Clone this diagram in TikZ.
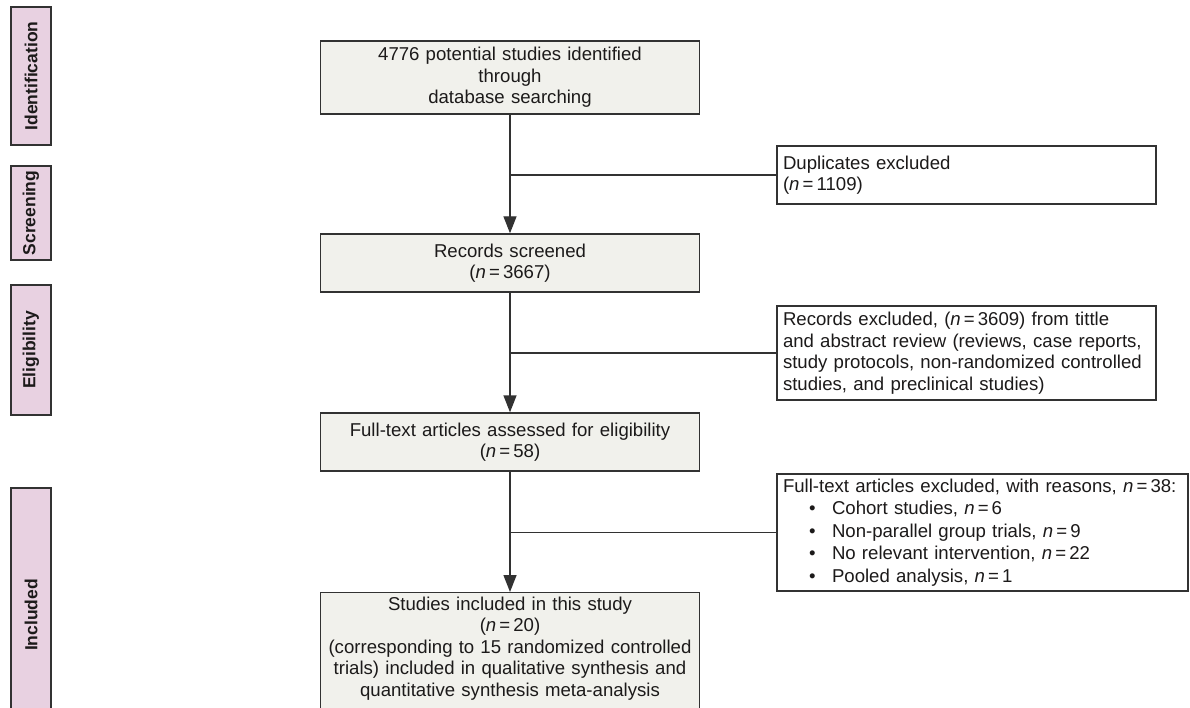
\documentclass[tikz,border=0pt]{standalone}
\usepackage{fontspec}
\setmainfont{Liberation Sans}
\usetikzlibrary{arrows.meta}
\definecolor{boxgray}{RGB}{241,241,236}
\definecolor{stagepink}{RGB}{232,209,225}
\definecolor{linegray}{RGB}{50,50,50}
\definecolor{textgray}{RGB}{28,26,26}
\newcommand{\nval}[1]{\textit{n}\,=\,#1}
\newcommand{\bitem}{\hspace*{26pt}\makebox[23pt][l]{•}}
\tikzset{
  basebox/.style={draw=linegray, line width=1.4pt, text=textgray,
    font=\fontsize{18.6}{21.5}\selectfont},
  mainbox/.style={basebox, fill=boxgray, align=center, text width=379pt,
    inner xsep=0pt, inner ysep=3pt},
  sidebox/.style={basebox, fill=white, align=left, text width=#1,
    inner xsep=6pt, inner ysep=3pt},
  stagebox/.style={draw=linegray, line width=1.4pt, fill=stagepink,
    text=textgray, rotate=90, inner sep=0pt, minimum height=40pt,
    font=\fontsize{17.5}{20}\selectfont\bfseries},
  flow/.style={draw=linegray, line width=1.4pt},
}
\begin{document}
\begin{tikzpicture}[x=1pt, y=-1pt, >={Triangle[width=13pt,length=17pt]}]
\fill[white] (0,0) rectangle (1190,708);
\clip (0,0) rectangle (1190,708);
% 左侧阶段标签
\node[stagebox, minimum width=138pt] (sIdent) at (31,76) {Identification};
\node[stagebox, minimum width=94pt] (sScreen) at (31,213) {Screening};
\node[stagebox, minimum width=130pt] (sElig) at (31,350) {Eligibility};
\node[stagebox, minimum width=254pt] (sIncl) at (31,615) {Included};
% 主流程
\node[mainbox, minimum height=73pt] (ident) at (510,77.5)
  {4776 potential studies identified\\through\\database searching};
\node[mainbox, minimum height=58pt] (screen) at (510,263)
  {Records screened\\(\nval{3667})};
\node[mainbox, minimum height=58pt] (elig) at (510,442)
  {Full-text articles assessed for eligibility\\(\nval{58})};
\node[mainbox, anchor=north, inner ysep=4pt] (incl) at (510,592)
  {Studies included in this study\\(\nval{20})\\(corresponding to 15 randomized controlled\\trials) included in qualitative synthesis and\\quantitative synthesis meta-analysis\rule[-24pt]{0pt}{1pt}};
% 右侧排除框
\node[sidebox=367pt, minimum height=58pt] (dup) at (966.5,175)
  {Duplicates excluded\\(\nval{1109})};
\node[sidebox=367pt, minimum height=94pt] (recex) at (966.5,353)
  {Records excluded, (\nval{3609}) from tittle\\and abstract review (reviews, case reports,\\study protocols, non-randomized controlled\\studies, and preclinical studies)};
\node[sidebox=399pt, minimum height=117pt, font=\fontsize{18.6}{22.4}\selectfont]
  (fullex) at (982.5,532.5)
  {Full-text articles excluded, with reasons, \nval{38}:\\
   \bitem Cohort studies, \nval{6}\\
   \bitem Non-parallel group trials, \nval{9}\\
   \bitem No relevant intervention, \nval{22}\\
   \bitem Pooled analysis, \nval{1}};
% 箭头和分支
\draw[flow,->] (ident) -- (screen);
\draw[flow,->] (screen) -- (elig);
\draw[flow,->] (elig) -- (incl);
\draw[flow] (ident.south |- dup.west) -- (dup.west);
\draw[flow] (screen.south |- recex.west) -- (recex.west);
\draw[flow] (elig.south |- fullex.west) -- (fullex.west);
\end{tikzpicture}
\end{document}
